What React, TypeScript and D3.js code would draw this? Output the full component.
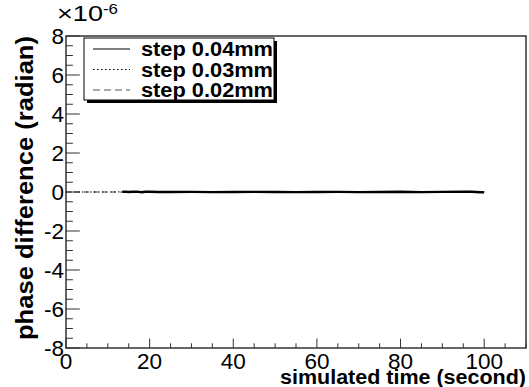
import React from "react";
import * as d3 from "d3";

// data (phase difference in units of 1e-6 radian)
const timesA = [13.5, 14, 15, 16, 17, 18, 19, 20, 22, 25, 30, 35, 40, 45, 50, 55, 60, 65, 70, 75, 80, 85, 90, 95, 97, 99, 100];
const phaseA = [0.01, 0.02, 0, 0.01, 0.02, -0.01, 0.01, 0.01, 0, 0, 0.005, -0.005, 0, 0.005, 0, -0.005, 0, 0.005, -0.005, 0, 0.01, -0.005, 0.005, 0.01, 0.015, -0.01, -0.015];
const timesB = [0, 5, 10, 15, 20, 25, 30, 35, 40, 45, 50, 55, 60, 65, 70, 75, 80, 85, 90, 95, 100];
const phaseB = [0, 0, 0, 0.01, 0.005, 0, 0, -0.005, 0, 0, 0, 0, 0, 0.005, 0, 0, 0.005, 0, 0, 0.005, -0.01];
const timesC = [0, 5, 10, 15, 20, 25, 30, 35, 40, 45, 50, 55, 60, 65, 70, 75, 80, 85, 90, 95, 100];
const phaseC = [0, 0, 0, -0.005, 0.01, 0, 0.005, 0, 0, 0, -0.005, 0, 0, 0, 0.005, 0, 0, 0.005, 0, -0.005, 0.005];

const legendLabels = ["step 0.04mm", "step 0.03mm", "step 0.02mm"];
const legendDash = ["none", "1.5,2.5", "7,4"];
const yTicks = [-8, -6, -4, -2, 0, 2, 4, 6, 8];
const xTicks = [0, 20, 40, 60, 80, 100];

const W = 529, H = 387;
const L = 66, R = 526, T = 36, B = 348;

export default function App() {
  const x = d3.scaleLinear().domain([0, 110]).range([L, R]);
  const y = d3.scaleLinear().domain([-8, 8]).range([B, T]);
  const line = d3.line<[number, number]>().x(d => x(d[0])).y(d => y(d[1]));
  const sA = timesA.map((t, i) => [t, phaseA[i]] as [number, number]);
  const sB = timesB.map((t, i) => [t, phaseB[i]] as [number, number]);
  const sC = timesC.map((t, i) => [t, phaseC[i]] as [number, number]);

  const yMinor = d3.range(-8, 8.001, 0.5);
  const xMinor = d3.range(0, 110.001, 5);
  const font = "Liberation Sans, Arial, Helvetica, sans-serif";
  const axisCol = "#333";

  return (
    <svg width={W} height={H} style={{ position: "absolute", left: 0, top: 0, background: "#fff" }} fontFamily={font}>
      <rect x={0} y={0} width={W} height={H} fill="#fff" />
      {/* data */}
      <path d={line(sC) || ""} fill="none" stroke="#444" strokeWidth={1} strokeDasharray="5,4" />
      <path d={line(sB) || ""} fill="none" stroke="#000" strokeWidth={1} strokeDasharray="1.5,2.5" />
      <path d={line(sA) || ""} fill="none" stroke="#000" strokeWidth={2.4} />

      {/* frame */}
      <rect x={L} y={T} width={R - L} height={B - T} fill="none" stroke={axisCol} strokeWidth={1.5} />

      {/* y ticks */}
      {yMinor.map((v, i) => {
        const major = Math.abs(v % 2) < 1e-9;
        return <line key={"ym" + i} x1={L} x2={L + (major ? 13.8 : 6.9)} y1={y(v)} y2={y(v)} stroke={axisCol} strokeWidth={1} />;
      })}
      {yTicks.map(v => (
        <text key={"yl" + v} x={64} y={y(v)} dy="0.37em" textAnchor="end" fontSize={22.5}>{v}</text>
      ))}
      {/* x ticks */}
      {xMinor.map((v, i) => {
        const major = Math.abs(v % 20) < 1e-9;
        return <line key={"xm" + i} x1={x(v)} x2={x(v)} y1={B} y2={B - (major ? 9.4 : 4.7)} stroke={axisCol} strokeWidth={1} />;
      })}
      {xTicks.map(v => (
        <text key={"xl" + v} x={x(v)} y={369} textAnchor="middle" fontSize={22.5}>{v}</text>
      ))}

      {/* exponent */}
      <text x={57} y={21} fontSize={22} textLength={46} lengthAdjust="spacingAndGlyphs">×10</text>
      <text x={103} y={14} fontSize={15} textLength={15} lengthAdjust="spacingAndGlyphs">-6</text>

      {/* axis titles */}
      <text x={R} y={384} textAnchor="end" fontSize={19.5} fontWeight="bold" textLength={246} lengthAdjust="spacingAndGlyphs">simulated time (second)</text>
      <text transform={`translate(33,${T}) rotate(-90)`} textAnchor="end" fontSize={23} fontWeight="bold" textLength={304} lengthAdjust="spacingAndGlyphs">phase difference (radian)</text>

      {/* legend */}
      <rect x={87} y={41} width={190} height={62} fill="#000" />
      <rect x={84} y={38} width={190} height={62} fill="#fff" stroke="#000" strokeWidth={1} />
      {legendLabels.map((lab, i) => {
        const cy = 49 + i * 20.5;
        return (
          <g key={lab}>
            <line x1={93} x2={130} y1={cy} y2={cy} stroke={i === 2 ? "#555" : "#000"} strokeWidth={1} strokeDasharray={legendDash[i]} />
            <text x={141} y={cy} dy="0.36em" fontSize={19.5} fontWeight="bold" textLength={132} lengthAdjust="spacingAndGlyphs">{lab}</text>
          </g>
        );
      })}
    </svg>
  );
}
